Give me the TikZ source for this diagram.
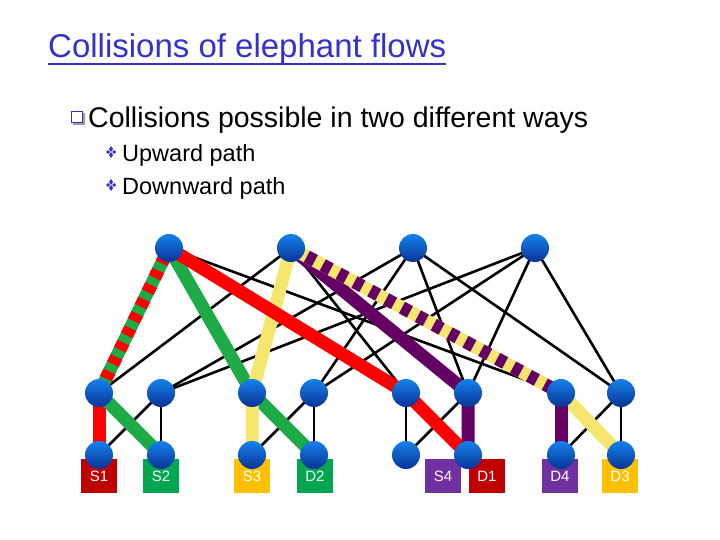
\documentclass[tikz,border=0pt]{standalone}
\usepackage{fontspec}
\setmainfont{Liberation Sans}
\definecolor{tblue}{RGB}{51,51,204}
\definecolor{cred}{RGB}{255,0,0}
\definecolor{cgreen}{RGB}{30,170,70}
\definecolor{cyel}{RGB}{245,230,110}
\definecolor{cpur}{RGB}{100,0,100}
\definecolor{bdred}{RGB}{192,0,0}
\definecolor{bgreen}{RGB}{0,166,80}
\definecolor{borange}{RGB}{255,192,0}
\definecolor{bpur}{RGB}{112,48,160}
\tikzset{
  sw/.style={circle,minimum size=28pt,inner sep=0pt,top color={rgb,255:red,20;green,130;blue,235},bottom color={rgb,255:red,10;green,50;blue,150}},
  wire/.style={line width=2.6pt,black},
  fat/.style={line width=13pt},
  hbox/.style={minimum width=36pt,minimum height=34pt,inner sep=0pt,text=white,font=\fontsize{15}{15}\selectfont,text depth=0pt},
}
\newcommand{\subbul}[2]{%
  \fill[tblue] (#1+0,#2-3) -- (#1+2,#2) -- (#1+0,#2+3) -- (#1-2,#2) -- cycle;
  \fill[tblue] (#1+0,#2+3) -- (#1+2,#2+6) -- (#1+0,#2+9) -- (#1-2,#2+6) -- cycle;
  \fill[tblue] (#1-3,#2+1) -- (#1-1,#2+3) -- (#1-3,#2+5) -- (#1-5,#2+3) -- cycle;
  \fill[tblue] (#1+3,#2+1) -- (#1+5,#2+3) -- (#1+3,#2+5) -- (#1+1,#2+3) -- cycle;}
\begin{document}
\begin{tikzpicture}[x=1pt,y=-1pt]
\useasboundingbox (0,0) rectangle (720,540);
% text
\node[anchor=base west,inner sep=0,text=tblue,font=\fontsize{33}{33}\selectfont] (title) at (48,58) {Collisions of elephant flows};
\draw[tblue,line width=1.5pt] (title.base west) ++(0,6) coordinate (u1) -- (u1 -| title.east);
\node[anchor=base west,inner sep=0,font=\fontsize{28.5}{28.5}\selectfont] (b1) at (88,128) {Collisions possible in two different ways};
\fill[black!40] (73,113) rectangle (85,125);
\fill[white] (71,111) rectangle (83,123);
\draw[tblue,line width=1.5pt] (71.5,111.5) rectangle (82.5,122.5);
\node[anchor=base west,inner sep=0,font=\fontsize{23.5}{23.5}\selectfont] (s1) at (122,162) {Upward path};
\node[anchor=base west,inner sep=0,font=\fontsize{23.5}{23.5}\selectfont] (s2) at (122,195) {Downward path};
\subbul{111}{149}
\subbul{111}{182}
% coordinates of switches
\coordinate (c1) at (169,248); \coordinate (c2) at (291,248);
\coordinate (c3) at (413,248); \coordinate (c4) at (535,248);
\foreach \i/\x in {1/99,2/161,3/252,4/314,5/406,6/468,7/561,8/621}{
  \coordinate (a\i) at (\x,393); \coordinate (e\i) at (\x,455);}
% black wires
\foreach \a/\b in {c1/a1,c1/a3,c1/a5,c1/a7,c2/a1,c2/a3,c2/a5,c2/a6,c2/a7,
  c3/a2,c3/a4,c3/a6,c3/a8,c4/a2,c4/a4,c4/a6,c4/a8}
  \draw[wire] (\a) -- (\b);
\foreach \p/\q in {1/2,3/4,5/6,7/8}{
  \draw[wire] (a\p) -- (e\p); \draw[wire] (a\p) -- (e\q);
  \draw[wire] (a\q) -- (e\p); \draw[wire] (a\q) -- (e\q);}
% coloured paths
\draw[fat,cred] (e1) -- (a1);
\draw[fat,cgreen] (e2) -- (a1);
\draw[fat,cgreen] (a1) -- (c1);
\draw[fat,cred,dash pattern=on 8pt off 8pt] (a1) -- (c1);
\draw[fat,cgreen] (c1) -- (a3) -- (e4);
\draw[fat,cyel] (e3) -- (a3) -- (c2);
\draw[fat,cred] (c1) -- (a5) -- (e6);
\draw[fat,cpur] (e6) -- (a6) -- (c2);
\draw[fat,cyel] (c2) -- (a7);
\draw[fat,cpur,dash pattern=on 9pt off 9pt] (c2) -- (a7);
\draw[fat,cyel] (a7) -- (e8);
\draw[fat,cpur] (a7) -- (e7);
% host boxes
\node[hbox,fill=bdred] (h1) at (99,476) {S1};
\node[hbox,fill=bgreen] (h2) at (161,476) {S2};
\node[hbox,fill=borange] (h3) at (252,476) {S3};
\node[hbox,fill=bgreen] (h4) at (315,476) {D2};
\node[hbox,fill=bpur] (h5) at (443,476) {S4};
\node[hbox,fill=bdred] (h6) at (487,476) {D1};
\node[hbox,fill=bpur] (h7) at (560,476) {D4};
\node[hbox,fill=borange] (h8) at (620,476) {D3};
% switches
\foreach \n in {c1,c2,c3,c4,a1,a2,a3,a4,a5,a6,a7,a8,e1,e2,e3,e4,e5,e6,e7,e8}
  \node[sw] (n\n) at (\n) {};
\end{tikzpicture}
\end{document}
